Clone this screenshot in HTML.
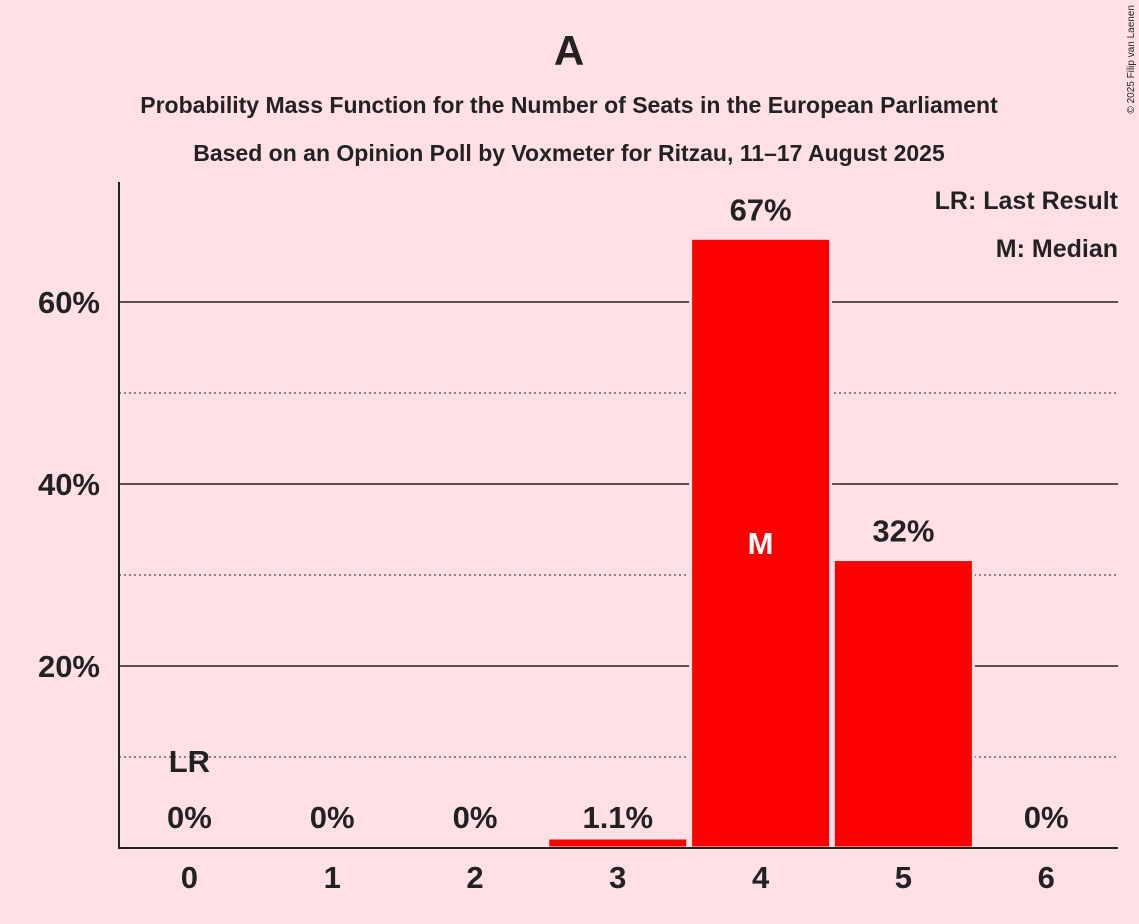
<!DOCTYPE html>
<html><head><meta charset="utf-8"><style>
body{margin:0;background:#ffe0e6;}
svg{display:block;font-family:"Liberation Sans",sans-serif;}
</style></head><body>
<svg id="chart" width="1139" height="924" viewBox="0 0 1139 924">
<rect width="1139" height="924" fill="#ffe0e6"/>
<text x="569" y="65" font-size="42" font-weight="bold" text-anchor="middle" fill="#222">A</text>
<text x="569" y="113" font-size="23" font-weight="bold" text-anchor="middle" fill="#222">Probability Mass Function for the Number of Seats in the European Parliament</text>
<text x="569" y="161" font-size="23" font-weight="bold" text-anchor="middle" fill="#222">Based on an Opinion Poll by Voxmeter for Ritzau, 11–17 August 2025</text>
<text x="1134" y="5" font-size="10" fill="#222" transform="rotate(-90 1134 5)" text-anchor="end">© 2025 Filip van Laenen</text>
<g id="grid"></g>
<g id="bars"></g>
<g id="labels"></g>
<line x1="119" y1="182" x2="119" y2="849" stroke="#222" stroke-width="2"/>
<line x1="118" y1="848" x2="1118" y2="848" stroke="#222" stroke-width="2"/>
<text x="1118" y="209" font-size="25" font-weight="bold" text-anchor="end" fill="#222">LR: Last Result</text>
<text x="1118" y="257" font-size="25" font-weight="bold" text-anchor="end" fill="#222">M: Median</text>
</svg>
<script>
const seats=[0,1,2,3,4,5,6];
const probs=[0,0,0,1.1,67,31.7,0];
const valueLabels=["0%","0%","0%","1.1%","67%","32%","0%"];
const yTicks=[20,40,60];
const yMinor=[10,30,50];
const lastResult=0;
const median=4;
const NS="http://www.w3.org/2000/svg";
const x0=118,step=142.8,y0=848,pxPer=9.1;
const xc=s=>x0+step*(s+0.5);
const y=v=>y0-v*pxPer;
function mk(tag,attrs,parent,text){const e=document.createElementNS(NS,tag);for(const k in attrs)e.setAttribute(k,attrs[k]);if(text!==undefined)e.textContent=text;document.getElementById(parent).appendChild(e);return e;}
yMinor.forEach(t=>{const l=mk('line',{x1:119,x2:1118,y1:y(t),y2:y(t),stroke:'#222','stroke-width':1,'stroke-dasharray':'2,3'},'grid');

});
yTicks.forEach(t=>{const l=mk('line',{x1:119,x2:1118,y1:y(t),y2:y(t),stroke:'#222','stroke-width':1.5},'grid');


const tx=mk('text',{x:100,y:y(t)+11,'font-size':31,'font-weight':'bold','text-anchor':'end',fill:'#222'},'labels',t+'%');

});
seats.forEach((s,i)=>{
 const h=probs[i]*pxPer;
 if(h>0){const r=mk('rect',{x:xc(s)-70,y:y(probs[i]),width:140,height:h,fill:'#ff0000',stroke:'#ffe0e6','stroke-width':3},'bars');
 
 }
 const xl=mk('text',{x:xc(s),y:888,'font-size':31,'font-weight':'bold','text-anchor':'middle',fill:'#222'},'labels',String(s));
 
 
 const vy=(probs[i]>5?y(probs[i])-18:y0-20);
 const vl=mk('text',{x:xc(s),y:vy,'font-size':31,'font-weight':'bold','text-anchor':'middle',fill:'#222'},'labels',valueLabels[i]);
 
 
 if(s===lastResult){const lr=mk('text',{x:xc(s),y:772,'font-size':31,'font-weight':'bold','text-anchor':'middle',fill:'#222'},'labels','LR');
 
 }
 if(s===median){const m=mk('text',{x:xc(s),y:y(probs[i]/2)+11,'font-size':31,'font-weight':'bold','text-anchor':'middle',fill:'#fff'},'labels','M');
 
 }
});
</script>
</body></html>
